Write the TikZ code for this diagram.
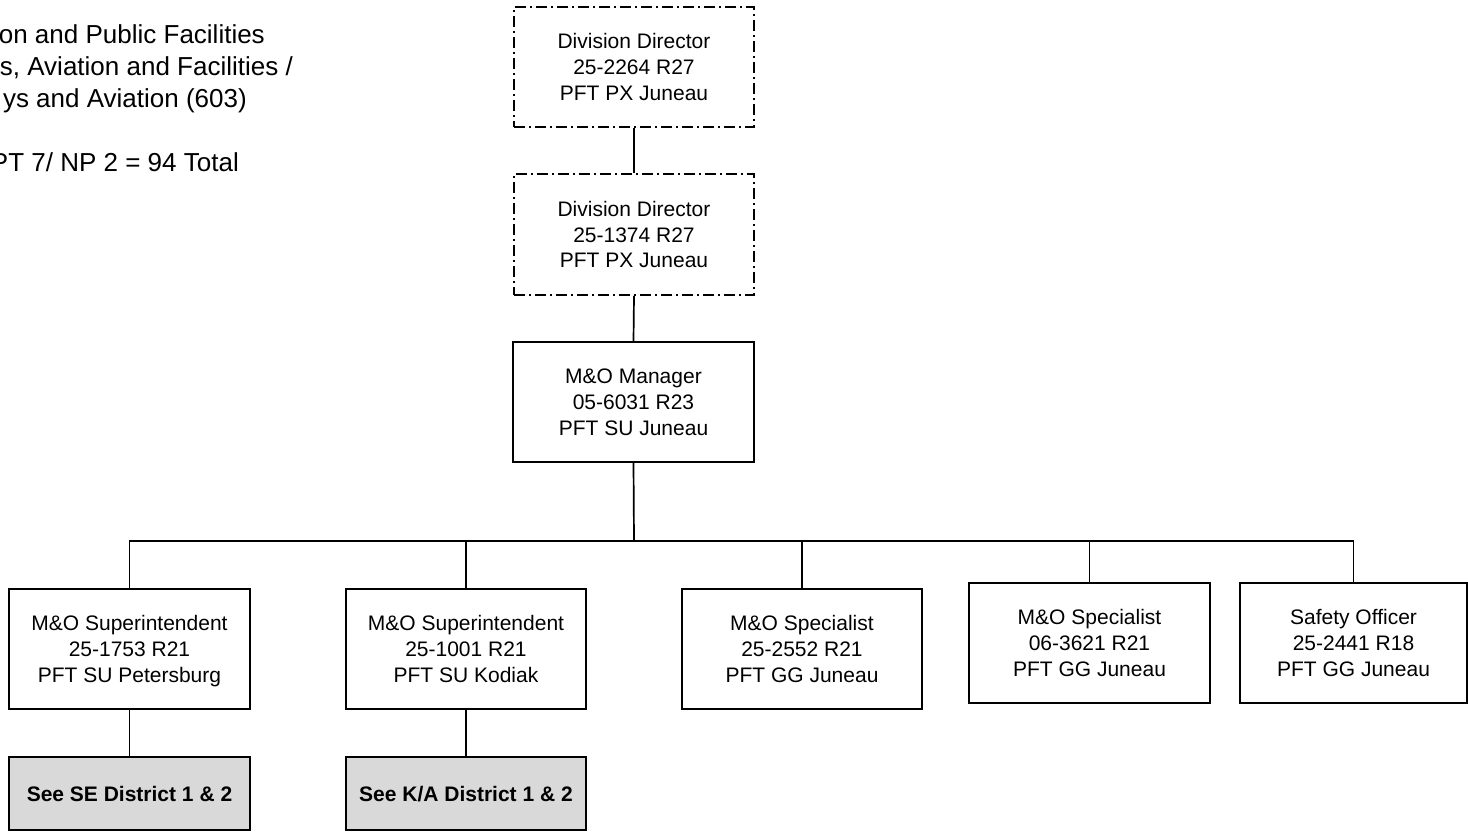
\documentclass[tikz,border=0pt]{standalone}
\usepackage{fontspec}
\setmainfont{Liberation Sans}
\newcommand\lnst{\rule[-5pt]{0pt}{25pt}}
\begin{document}
\begin{tikzpicture}[x=1pt,y=-1pt,
  box/.style={draw=black,line width=1.9pt,rectangle,inner sep=0pt,align=center,
    font=\fontsize{21}{25.8}\selectfont,minimum height=120pt,minimum width=241pt,fill=white},
  dashbox/.style={box,dash pattern=on 11pt off 4pt on 2pt off 4pt},
  seebox/.style={box,fill=black!15,minimum height=73pt,font=\bfseries\fontsize{21}{25.8}\selectfont},
  conn/.style={draw=black,line width=1.7pt},
  hdr/.style={anchor=base east,inner sep=0pt,font=\fontsize{26}{32}\selectfont}]
\useasboundingbox (0,0) rectangle (1468,833);
\fill[white] (0,0) rectangle (1468,833);
% header text (cut off at the left edge)
\node[hdr] (h1) at (265,43.3) {on and Public Facilities};
\node[hdr] (h2) at (293,75.3) {s, Aviation and Facilities /};
\node[hdr] (h3) at (247,107.3) {ys and Aviation (603)};
\node[hdr] (h4) at (239,171.3) {PT 7/ NP 2 = 94 Total};
% boxes
\node[dashbox,minimum width=240pt] (d1) at (634,67) {\lnst Division Director\\\lnst 25-2264 R27\\\lnst PFT PX Juneau};
\node[dashbox,minimum width=240pt,minimum height=121pt] (d2) at (634,234.5) {\lnst Division Director\\\lnst 25-1374 R27\\\lnst PFT PX Juneau};
\node[box] (mgr) at (633.5,402) {\lnst M\&O Manager\\\lnst 05-6031 R23\\\lnst PFT SU Juneau};
\node[box] (b1) at (129.5,649) {\lnst M\&O Superintendent\\\lnst 25-1753 R21\\\lnst PFT SU Petersburg};
\node[box,minimum width=240pt] (b2) at (466,649) {\lnst M\&O Superintendent\\\lnst 25-1001 R21\\\lnst PFT SU Kodiak};
\node[box,minimum width=240pt] (b3) at (802,649) {\lnst M\&O Specialist\\\lnst 25-2552 R21\\\lnst PFT GG Juneau};
\node[box] (b4) at (1089.5,643) {\lnst M\&O Specialist\\\lnst 06-3621 R21\\\lnst PFT GG Juneau};
\node[box,minimum width=227pt] (b5) at (1353.5,643) {\lnst Safety Officer\\\lnst 25-2441 R18\\\lnst PFT GG Juneau};
\node[seebox] (g1) at (129.5,793.5) {\lnst See SE District 1 \& 2};
\node[seebox,minimum width=240pt] (g2) at (466,793.5) {\lnst See K/A District 1 \& 2};
% connectors
\coordinate (bar) at (634,541);
\draw[conn] (d1.south) -- (d2.north);
\draw[conn] (d2.south) -- (mgr.north);
\draw[conn] (mgr.south) -- (bar);
\draw[conn] (b1.north) -- (b1.north |- bar) -- (b5.north |- bar) -- (b5.north);
\draw[conn] (b2.north) -- (b2.north |- bar);
\draw[conn] (b3.north) -- (b3.north |- bar);
\draw[conn] (b4.north) -- (b4.north |- bar);
\draw[conn] (b1.south) -- (g1.north);
\draw[conn] (b2.south) -- (g2.north);
\end{tikzpicture}
\end{document}
